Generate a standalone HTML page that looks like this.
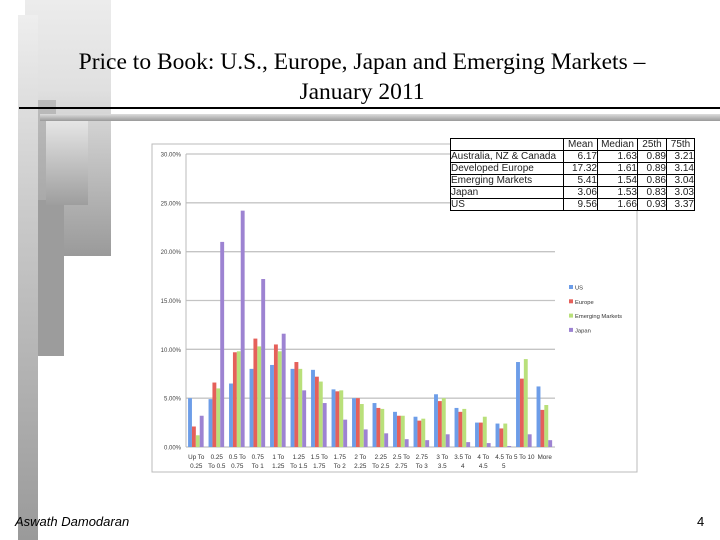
<!DOCTYPE html>
<html><head><meta charset="utf-8"><style>
body{margin:0;width:720px;height:540px;position:relative;background:#fff;overflow:hidden;font-family:"Liberation Sans",sans-serif}
.d{position:absolute}
</style></head><body>
<div class="d" style="left:25px;top:0;width:86px;height:256px;background:linear-gradient(#ececec,#e0e0e0 35%,#9a9a9a)"></div>
<div class="d" style="left:32px;top:100px;width:24px;height:197px;background:linear-gradient(#bbb,#999)"></div>
<div class="d" style="left:34px;top:200px;width:30px;height:156px;background:#9c9c9c"></div>
<div class="d" style="left:18px;top:15px;width:20px;height:525px;background:linear-gradient(#eee,#c8c8c8 40%,#9a9a9a)"></div>
<div class="d" style="left:46px;top:118px;width:42px;height:87px;background:linear-gradient(#e8e8e8,#9e9e9e)"></div>
<div class="d" style="left:19px;top:107px;width:701px;height:2px;background:#000"></div>
<div class="d" style="left:40px;top:114px;width:680px;height:7px;background:linear-gradient(#ddd,#999)"></div>
<div class="d" style="left:20px;top:47px;width:684px;text-align:center;font-family:'Liberation Serif',serif;font-size:23.5px;line-height:30px;color:#000">Price to Book: U.S., Europe, Japan and Emerging Markets –<br>January 2011</div>
<svg class="d" style="left:0;top:0" width="720" height="540">
<rect x="152" y="144" width="485" height="328" fill="#fff" stroke="#bbb"/>
<g id="grid"></g><g id="bars"></g><g id="xl"></g>
</svg>
<div class="d" style="left:450px;top:138px;background:#fff">
<table style="border-collapse:collapse;font-size:10px;line-height:11px;color:#222" cellpadding="0">
<tr><td style="border:1px solid #000;width:112px"></td><td style="border:1px solid #000;width:33px;text-align:center">Mean</td><td style="border:1px solid #000;width:39px;text-align:center">Median</td><td style="border:1px solid #000;width:28px;text-align:center">25th</td><td style="border:1px solid #000;width:27px;text-align:center">75th</td></tr>
<tr><td style="border:1px solid #000">Australia, NZ &amp; Canada</td><td style="border:1px solid #000;text-align:right">6.17</td><td style="border:1px solid #000;text-align:right">1.63</td><td style="border:1px solid #000;text-align:right">0.89</td><td style="border:1px solid #000;text-align:right">3.21</td></tr>
<tr><td style="border:1px solid #000">Developed Europe</td><td style="border:1px solid #000;text-align:right">17.32</td><td style="border:1px solid #000;text-align:right">1.61</td><td style="border:1px solid #000;text-align:right">0.89</td><td style="border:1px solid #000;text-align:right">3.14</td></tr>
<tr><td style="border:1px solid #000">Emerging Markets</td><td style="border:1px solid #000;text-align:right">5.41</td><td style="border:1px solid #000;text-align:right">1.54</td><td style="border:1px solid #000;text-align:right">0.86</td><td style="border:1px solid #000;text-align:right">3.04</td></tr>
<tr><td style="border:1px solid #000">Japan</td><td style="border:1px solid #000;text-align:right">3.06</td><td style="border:1px solid #000;text-align:right">1.53</td><td style="border:1px solid #000;text-align:right">0.83</td><td style="border:1px solid #000;text-align:right">3.03</td></tr>
<tr><td style="border:1px solid #000">US</td><td style="border:1px solid #000;text-align:right">9.56</td><td style="border:1px solid #000;text-align:right">1.66</td><td style="border:1px solid #000;text-align:right">0.93</td><td style="border:1px solid #000;text-align:right">3.37</td></tr>
</table></div>
<div class="d" style="left:15px;top:514px;font-size:13px;font-style:italic">Aswath Damodaran</div>
<div class="d" style="left:697px;top:514px;font-size:13px">4</div>
<script>
const categories=[["Up To","0.25"],["0.25","To 0.5"],["0.5 To","0.75"],["0.75","To 1"],["1 To","1.25"],["1.25","To 1.5"],["1.5 To","1.75"],["1.75","To 2"],["2 To","2.25"],["2.25","To 2.5"],["2.5 To","2.75"],["2.75","To 3"],["3 To","3.5"],["3.5 To","4"],["4 To","4.5"],["4.5 To","5"],["5 To 10",""],["More",""]];
const usVals=[5.0,4.9,6.5,8.0,8.4,8.0,7.9,5.9,5.0,4.5,3.6,3.1,5.4,4.0,2.5,2.4,8.7,6.2];
const europeVals=[2.1,6.6,9.7,11.1,10.5,8.7,7.2,5.7,5.0,4.0,3.2,2.7,4.7,3.6,2.5,1.9,7.0,3.8];
const emVals=[1.2,6.0,9.8,10.3,9.8,8.0,6.7,5.8,4.4,3.9,3.2,2.9,5.0,3.9,3.1,2.4,9.0,4.3];
const japanVals=[3.2,21.0,24.2,17.2,11.6,5.8,4.5,2.8,1.8,1.4,0.8,0.7,1.3,0.5,0.4,0.1,1.3,0.7];
const yTicks=[0,5,10,15,20,25,30];
const seriesNames=["US","Europe","Emerging Markets","Japan"];
const colors=["#6d9de8","#e5605a","#b9e07a","#9d83d2"];
const NS="http://www.w3.org/2000/svg";
const X0=186,X1=555,Y0=447,Y30=154;
const y=v=>Y0-(v/30)*(Y0-Y30);
const cw=(X1-X0)/categories.length;
const x=i=>X0+i*cw;
function mk(t,a,p){const e=document.createElementNS(NS,t);for(const k in a)e.setAttribute(k,a[k]);p.appendChild(e);return e;}
const grid=document.getElementById('grid'),bars=document.getElementById('bars'),xl=document.getElementById('xl');
yTicks.forEach(t=>{
 const l=mk('line',{x1:X0,x2:X1,y1:y(t),y2:y(t),stroke:'#c4c4c4','stroke-width':1.3},grid);
 
 
 const tx=mk('text',{x:X0-5,y:y(t)+2.5,'text-anchor':'end','font-size':6,fill:'#444'},grid);
 tx.textContent=t.toFixed(2)+'%';
 
 
});
mk('line',{x1:X0,x2:X0,y1:Y30,y2:Y0,stroke:'#bbb'},grid);
const all=[usVals,europeVals,emVals,japanVals];
const bw=cw*0.19;
categories.forEach((c,i)=>{
 all.forEach((s,j)=>{
  const r=mk('rect',{x:x(i)+cw*0.1+j*bw,y:y(s[i]),width:bw,height:Y0-y(s[i]),fill:colors[j]},bars);
  
  
 });
 c.forEach((ln,k)=>{
  const t=mk('text',{x:x(i)+cw/2,y:Y0+12+k*9,'text-anchor':'middle','font-size':6.3,fill:'#333'},xl);
  t.textContent=ln;
  
  
 });
});
seriesNames.forEach((n,j)=>{
 const ly=288+j*14.3;
 const r=mk('rect',{x:569,y:ly-3,width:4,height:4,fill:colors[j]},xl);
 
 
 const t=mk('text',{x:575,y:ly+1.5,'font-size':5.8,fill:'#333'},xl);
 t.textContent=n;
 
 
});
</script>
</body></html>
